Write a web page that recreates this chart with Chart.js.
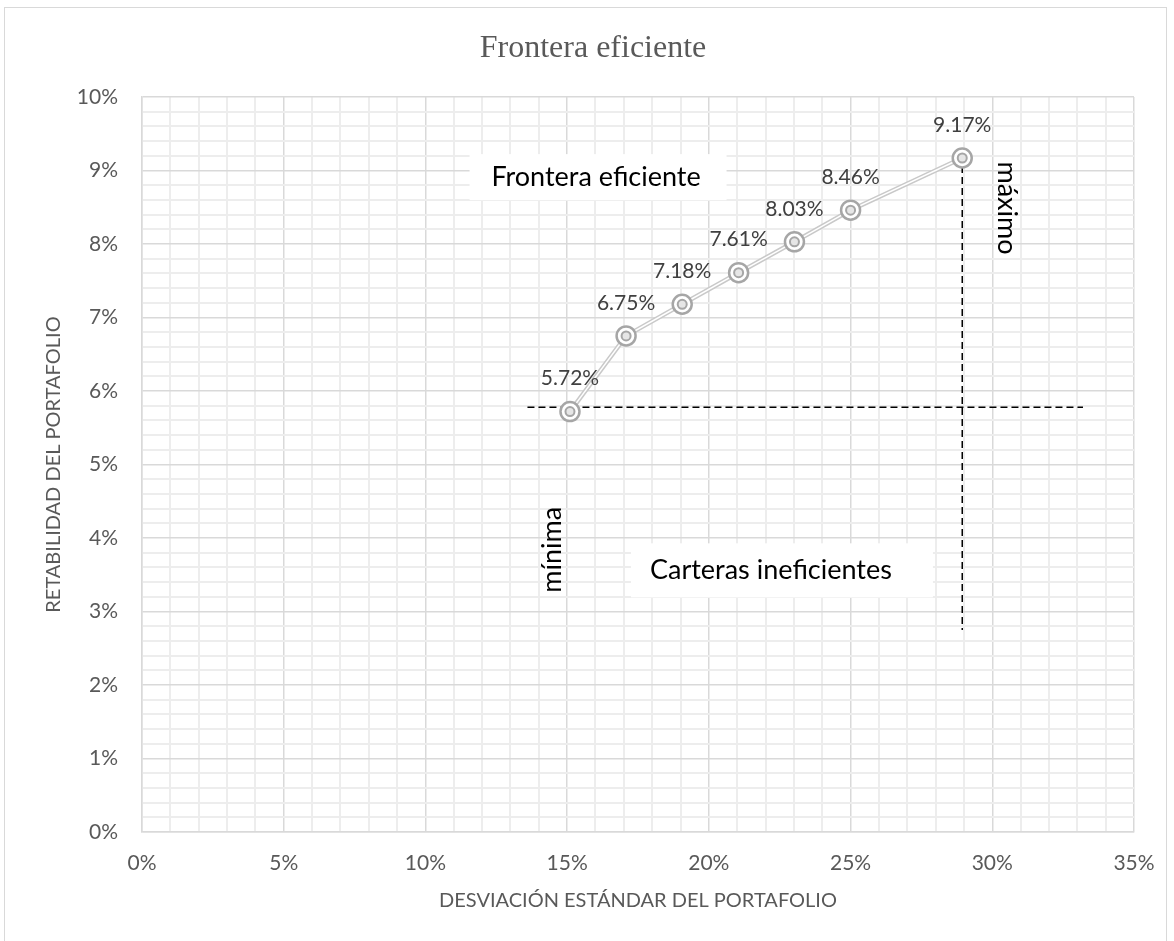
<!DOCTYPE html>
<html><head><meta charset="utf-8">
<script src="https://cdn.jsdelivr.net/npm/chart.js@4.4.1/dist/chart.umd.min.js"></script>
<style>html,body{margin:0;padding:0;background:#fff;}canvas{display:block;}</style>
</head><body>
<canvas id="c" width="1174" height="941"></canvas>
<script>
// ---- data (percent units) ----
const stdDev  = [15.10, 17.08, 19.06, 21.05, 23.02, 25.00, 28.94];
const returns = [5.72, 6.75, 7.18, 7.61, 8.03, 8.46, 9.17];
const minLineX = [13.6, 33.2];
const minLineY = [5.78, 5.78];
const maxLineX = [28.94, 28.94];
const maxLineY = [9.21, 2.75];
const boxNoteText = ['Frontera eficiente', 'Carteras ineficientes'];
const boxNoteX = [16.02, 22.19];
const boxNoteY = [8.91, 3.56];
const vertNoteText = ['mínima', 'máximo'];
const vertNoteX = [14.47, 30.52];
const vertNoteY = [3.84, 8.49];
const chartTitle = 'Frontera eficiente';
const xAxisTitle = 'DESVIACIÓN ESTÁNDAR DEL PORTAFOLIO';
const yAxisTitle = 'RETABILIDAD DEL PORTAFOLIO';

const pts = (xs, ys) => xs.map((x, i) => ({x: x, y: ys[i]}));
const isMajor = (v, step) => Math.abs(v / step - Math.round(v / step)) < 1e-6;

const sansFont = 'Lato, "Open Sans", sans-serif';

const framePlugin = {
  id: 'frame',
  beforeDraw(chart) {
    const ctx = chart.ctx;
    ctx.save();
    ctx.fillStyle = '#fff';
    ctx.fillRect(0, 0, chart.width, chart.height);
    ctx.strokeStyle = '#d9d9d9';
    ctx.lineWidth = 1;
    ctx.strokeRect(4.5, 7.5, 1162, 1000);
    ctx.restore();
  },
  afterDraw(chart) {
    const ctx = chart.ctx;
    ctx.save();
    ctx.font = '32px "Liberation Serif", serif';
    ctx.fillStyle = '#595959';
    ctx.textAlign = 'center';
    ctx.textBaseline = 'alphabetic';
    ctx.fillText(chartTitle, 593, 57);
    ctx.restore();
  }
};

const notesPlugin = {
  id: 'notes',
  beforeDatasetsDraw(chart) {
    const ctx = chart.ctx, xs = chart.scales.x, ys = chart.scales.y;
    const boxW = [257, 302], boxH = [46, 54], boxDx = [2, 11];
    ctx.save();
    ctx.font = '27px ' + sansFont;
    ctx.textAlign = 'center';
    ctx.textBaseline = 'middle';
    boxNoteText.forEach((t, i) => {
      const cx = xs.getPixelForValue(boxNoteX[i]);
      const cy = ys.getPixelForValue(boxNoteY[i]);
      ctx.fillStyle = '#ffffff';
      ctx.fillRect(cx + boxDx[i] - boxW[i] / 2, cy - boxH[i] / 2, boxW[i], boxH[i]);
      ctx.fillStyle = '#000000';
      ctx.fillText(t, cx, cy);
    });
    vertNoteText.forEach((t, i) => {
      const cx = xs.getPixelForValue(vertNoteX[i]);
      const cy = ys.getPixelForValue(vertNoteY[i]);
      ctx.save();
      ctx.translate(cx, cy);
      ctx.rotate(i === 0 ? -Math.PI / 2 : Math.PI / 2);
      ctx.fillStyle = '#000000';
      ctx.fillText(t, 0, 0);
      ctx.restore();
    });
    ctx.restore();
  },
  afterDatasetsDraw(chart) {
    const ctx = chart.ctx;
    const meta = chart.getDatasetMeta(0);
    ctx.save();
    ctx.font = '21px ' + sansFont;
    ctx.fillStyle = '#404040';
    ctx.textAlign = 'center';
    ctx.textBaseline = 'middle';
    meta.data.forEach((el, i) => {
      ctx.fillText(returns[i].toFixed(2) + '%', el.x, el.y - 33);
    });
    ctx.restore();
  }
};

new Chart(document.getElementById('c'), {
  type: 'scatter',
  data: {
    datasets: [
      { // outer marker rings
        data: pts(stdDev, returns), showLine: false, order: 1,
        pointRadius: 9.5, pointBorderWidth: 2.5, pointBorderColor: '#a6a6a6',
        pointBackgroundColor: '#ffffff', pointHoverRadius: 9.5
      },
      { // inner marker rings (drawn on top)
        data: pts(stdDev, returns), showLine: false, order: 0,
        pointRadius: 4.5, pointBorderWidth: 2, pointBorderColor: '#a6a6a6',
        pointBackgroundColor: '#e6e6e6', pointHoverRadius: 4.5
      },
      { // line core
        data: pts(stdDev, returns), showLine: true, order: 2,
        borderColor: '#ffffff', borderWidth: 1.5, pointRadius: 0
      },
      { // line outer
        data: pts(stdDev, returns), showLine: true, order: 3,
        borderColor: '#c9c9c9', borderWidth: 4.5, pointRadius: 0
      },
      { // min return line
        data: pts(minLineX, minLineY), showLine: true, order: 4,
        borderColor: '#000000', borderWidth: 1.5, borderDash: [7, 4], pointRadius: 0
      },
      { // max line
        data: pts(maxLineX, maxLineY), showLine: true, order: 4,
        borderColor: '#000000', borderWidth: 1.5, borderDash: [7, 4], pointRadius: 0
      }
    ]
  },
  options: {
    responsive: false,
    animation: false,
    devicePixelRatio: 1,
    layout: { padding: { left: 0, right: 40, top: 97, bottom: 0 } },
    plugins: {
      legend: { display: false },
      tooltip: { enabled: false },
      title: { display: false }
    },
    scales: {
      x: {
        type: 'linear', min: 0, max: 35,
        afterFit(s) { s.height = 109; },
        ticks: {
          stepSize: 1, autoSkip: false, maxRotation: 0, padding: 19,
          color: '#595959', font: { family: sansFont, size: 21 },
          callback: v => isMajor(v, 5) ? Math.round(v) + '%' : ''
        },
        grid: {
          drawTicks: false,
          color: c => isMajor(c.tick.value, 5) ? '#d9d9d9' : '#ededed',
          lineWidth: c => isMajor(c.tick.value, 5) ? 1.5 : 2
        },
        border: { color: '#d9d9d9', width: 1.5 },
        title: {
          display: true, text: xAxisTitle, color: '#595959',
          font: { family: sansFont, size: 20, lineHeight: 1.2 }, padding: { top: 0, bottom: 28 }
        }
      },
      y: {
        type: 'linear', min: 0, max: 10,
        afterFit(s) { s.width = 142; },
        ticks: {
          stepSize: 0.2, autoSkip: false, padding: 24,
          color: '#595959', font: { family: sansFont, size: 21 },
          callback: v => isMajor(v, 1) ? Math.round(v) + '%' : ''
        },
        grid: {
          drawTicks: false,
          color: c => isMajor(c.tick.value, 1) ? '#d9d9d9' : '#ededed',
          lineWidth: c => isMajor(c.tick.value, 1) ? 1.5 : 2
        },
        border: { color: '#d9d9d9', width: 1.5 },
        title: {
          display: true, text: yAxisTitle, color: '#595959',
          font: { family: sansFont, size: 20, lineHeight: 1.2 }, padding: { top: 42, bottom: 0 }
        }
      }
    }
  },
  plugins: [framePlugin, notesPlugin]
});
</script>
</body></html>
